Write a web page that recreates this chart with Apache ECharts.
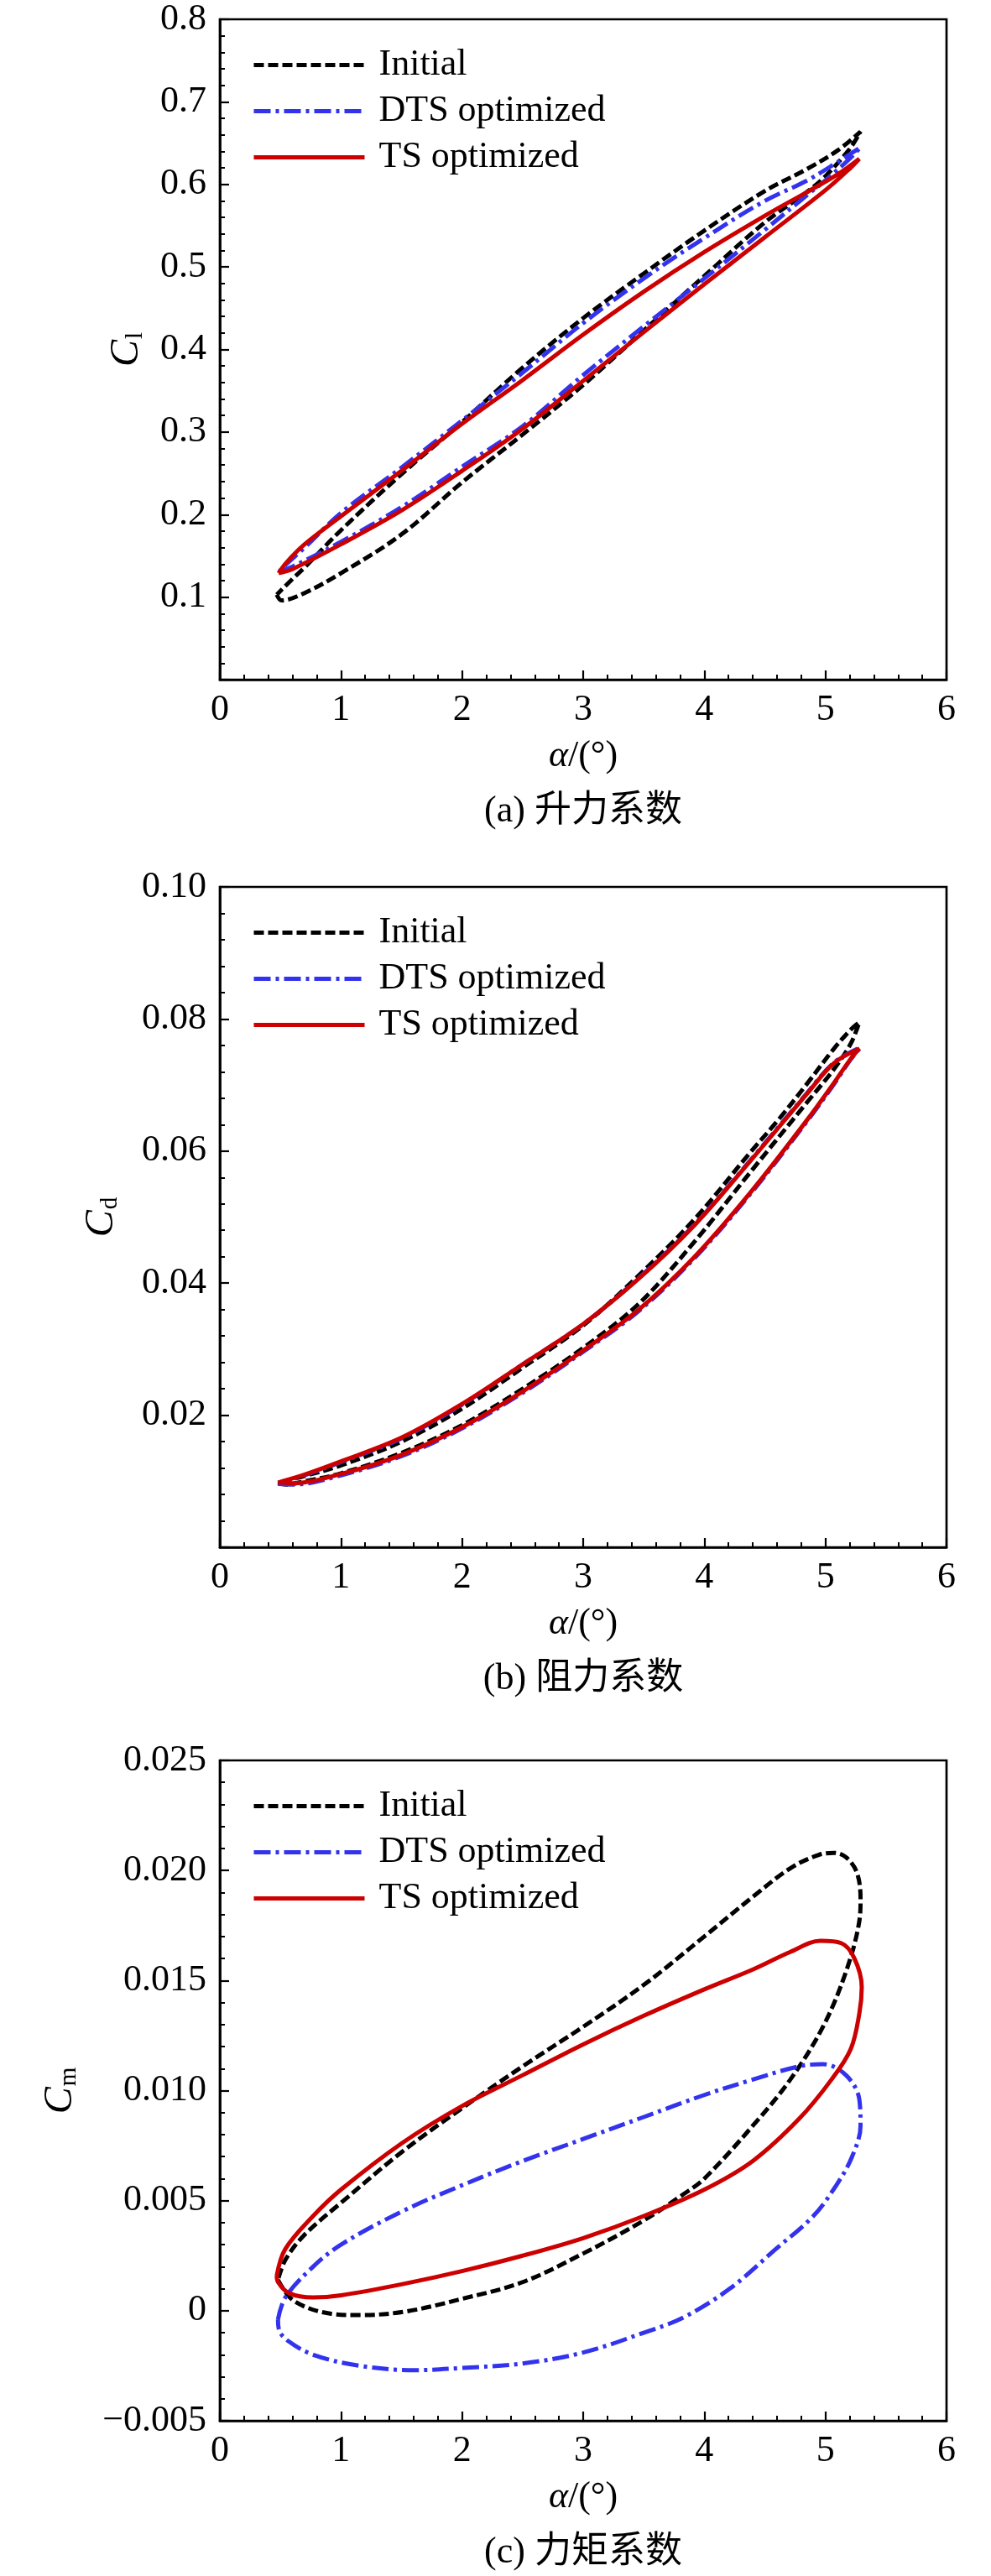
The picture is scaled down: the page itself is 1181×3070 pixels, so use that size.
<!DOCTYPE html>
<html>
<head>
<meta charset="utf-8">
<script src="https://cdn.jsdelivr.net/npm/echarts@6/dist/echarts.min.js"></script>
<style>
  html, body { margin: 0; padding: 0; background: #fff; }
  #chart { width: 1181px; height: 3070px; }
</style>
</head>
<body>
<div id="chart"></div>
<script>
// ---------- data: [alpha, coefficient] around each loop ----------
var seriesNames = ['Initial', 'DTS optimized', 'TS optimized'];

// (a) lift coefficient
var clInitial = [[0.47,0.103],[0.51,0.096],[0.7,0.105],[1.0,0.129],[1.5,0.176],[2.0,0.239],[2.5,0.297],[3.0,0.357],[3.5,0.423],[4.0,0.489],[4.5,0.554],[4.84,0.590],[5.0,0.610],[5.2,0.643],[5.29,0.664],[5.1,0.641],[4.84,0.618],[4.5,0.592],[4.0,0.544],[3.5,0.492],[3.0,0.438],[2.5,0.378],[2.0,0.312],[1.5,0.249],[1.0,0.181],[0.7,0.136],[0.6,0.122],[0.47,0.103]];
var clDts = [[0.49,0.131],[0.6,0.137],[1.0,0.167],[1.5,0.209],[2.0,0.258],[2.5,0.307],[3.0,0.369],[3.5,0.428],[4.0,0.486],[4.5,0.545],[4.84,0.586],[5.0,0.605],[5.2,0.631],[5.29,0.645],[5.1,0.627],[4.84,0.604],[4.5,0.580],[4.0,0.535],[3.5,0.486],[3.0,0.432],[2.5,0.372],[2.0,0.314],[1.5,0.257],[1.0,0.202],[0.7,0.160],[0.55,0.140],[0.49,0.131]];
var clTs = [[0.485,0.129],[0.6,0.134],[1.0,0.164],[1.5,0.205],[2.0,0.253],[2.5,0.304],[3.0,0.362],[3.5,0.421],[4.0,0.479],[4.5,0.536],[5.0,0.593],[5.2,0.619],[5.28,0.631],[5.1,0.612],[4.84,0.590],[4.5,0.562],[4.0,0.518],[3.5,0.470],[3.0,0.418],[2.5,0.363],[2.0,0.310],[1.5,0.253],[1.0,0.198],[0.7,0.164],[0.55,0.142],[0.485,0.129]];

// (b) drag coefficient
var cdInitial = [[0.48,0.0098],[0.55,0.0095],[0.7,0.0100],[1.0,0.0112],[1.5,0.0143],[2.0,0.0185],[2.5,0.0240],[3.0,0.0302],[3.46,0.0369],[3.92,0.0463],[4.38,0.0568],[4.84,0.0672],[5.07,0.0724],[5.21,0.0763],[5.28,0.0795],[5.21,0.0784],[5.07,0.0755],[4.84,0.0700],[4.61,0.0647],[4.38,0.0598],[3.92,0.0497],[3.46,0.0412],[3.0,0.0336],[2.5,0.0272],[2.0,0.0210],[1.5,0.0160],[1.0,0.0124],[0.7,0.0108],[0.48,0.0098]];
var cdDts = [[0.48,0.0096],[0.6,0.0095],[1.0,0.0109],[1.5,0.0138],[2.0,0.0180],[2.5,0.0234],[3.0,0.0296],[3.46,0.0358],[3.92,0.0438],[4.38,0.0535],[4.84,0.0643],[5.07,0.0701],[5.21,0.0739],[5.29,0.0757],[5.07,0.0734],[4.84,0.0686],[4.38,0.0586],[3.92,0.0489],[3.46,0.0408],[3.0,0.0338],[2.5,0.0277],[2.0,0.0216],[1.5,0.0165],[1.0,0.0129],[0.7,0.0109],[0.48,0.0096]];
var cdTs = [[0.48,0.0098],[0.6,0.0097],[1.0,0.0111],[1.5,0.0140],[2.0,0.0182],[2.5,0.0236],[3.0,0.0298],[3.46,0.0360],[3.92,0.0440],[4.38,0.0537],[4.84,0.0645],[5.07,0.0703],[5.21,0.0740],[5.28,0.0755],[5.07,0.0733],[4.84,0.0685],[4.38,0.0585],[3.92,0.0488],[3.46,0.0407],[3.0,0.0338],[2.5,0.0277],[2.0,0.0217],[1.5,0.0166],[1.0,0.0130],[0.7,0.0110],[0.48,0.0098]];

// (c) moment coefficient
var cmInitial = [[0.48,0.0014],[0.61,0.00045],[0.92,-0.00014],[1.15,-0.0002],[1.53,-0.00004],[2.0,0.00054],[2.5,0.0013],[3.0,0.0026],[3.5,0.0041],[3.83,0.0053],[4.0,0.0060],[4.4,0.0084],[4.71,0.0105],[4.98,0.0129],[5.17,0.0154],[5.28,0.0177],[5.29,0.0187],[5.26,0.0199],[5.17,0.0206],[5.07,0.0208],[4.94,0.0207],[4.71,0.0201],[4.4,0.0188],[4.0,0.0170],[3.5,0.0148],[3.0,0.0129],[2.5,0.0111],[2.0,0.0092],[1.5,0.0072],[1.0,0.0049],[0.69,0.0034],[0.54,0.0023],[0.48,0.0014]];
var cmDts = [[0.48,-0.0004],[0.54,0.0006],[0.77,0.0020],[1.0,0.0030],[1.5,0.0045],[2.0,0.0057],[2.5,0.0068],[3.0,0.0078],[3.5,0.0088],[4.0,0.0098],[4.4,0.0105],[4.78,0.0111],[4.98,0.0112],[5.17,0.0107],[5.28,0.0096],[5.29,0.0084],[5.22,0.0070],[5.09,0.0057],[4.9,0.0043],[4.59,0.0028],[4.21,0.0010],[3.83,-0.0003],[3.5,-0.0010],[3.0,-0.0019],[2.5,-0.0024],[2.0,-0.0026],[1.61,-0.0027],[1.15,-0.0025],[0.77,-0.0020],[0.57,-0.0014],[0.49,-0.0009],[0.48,-0.0004]];
var cmTs = [[0.47,0.0016],[0.54,0.0028],[0.77,0.0043],[1.0,0.0055],[1.5,0.0076],[2.0,0.0093],[2.5,0.0107],[3.0,0.0121],[3.5,0.0134],[4.0,0.0146],[4.4,0.0155],[4.71,0.0163],[4.96,0.0168],[5.13,0.0167],[5.24,0.0160],[5.30,0.0147],[5.28,0.0135],[5.21,0.0119],[5.05,0.0105],[4.78,0.0087],[4.4,0.0068],[4.0,0.0055],[3.5,0.0043],[3.0,0.0033],[2.5,0.0025],[2.0,0.0018],[1.5,0.0012],[1.0,0.0007],[0.77,0.0006],[0.57,0.0008],[0.48,0.0013],[0.47,0.0016]];

// axis ticks: min, max, interval
var xTicks = [0, 6, 1];
var clTicks = [0, 0.8, 0.1];
var cdTicks = [0, 0.10, 0.02];
var cmTicks = [-0.005, 0.025, 0.005];

var captions = ['(a) 升力系数', '(b) 阻力系数', '(c) 力矩系数'];
var yNames = ['{i|C}{s|l}', '{i|C}{s|d}', '{i|C}{s|m}'];

// ---------- layout ----------
var FONT = '"Liberation Serif", "Times New Roman", "Noto Sans CJK SC", serif';
var BLUE = '#3333ee';
var RED = '#cc0000';
var colors = ['#000', BLUE, RED];
var gridTops = [23, 1057, 2098];
var gridH = 787;
var gridLeft = 262;
var gridW = 866;
var yNameGaps = [86, 116, 165];

var chart = echarts.init(document.getElementById('chart'), null, { renderer: 'canvas' });

function fmtA(v) { return Math.abs(v) < 1e-9 ? '' : v.toFixed(1); }
function fmtB(v) { return Math.abs(v) < 1e-9 ? '' : v.toFixed(2); }
function fmtC(v) {
  if (Math.abs(v) < 1e-9) return '0';
  if (v < 0) return '\u2212' + (-v).toFixed(3);
  return v.toFixed(3);
}
var yTicks = [clTicks, cdTicks, cmTicks];
var yFmts = [fmtA, fmtB, fmtC];
var loops = [[clInitial, clDts, clTs], [cdInitial, cdDts, cdTs], [cmInitial, cmDts, cmTs]];

var lineStyles = [
  { color: '#000', width: 5, type: [12, 5] },
  { color: BLUE, width: 5, type: [20, 6, 4, 6] },
  { color: RED, width: 5, type: 'solid' }
];

var grids = [], xAxes = [], yAxes = [], series = [], legends = [], graphics = [];

for (var g = 0; g < 3; g++) {
  grids.push({
    left: gridLeft, top: gridTops[g], width: gridW, height: gridH,
    show: true, borderColor: '#000', borderWidth: 2.7, containLabel: false
  });
  xAxes.push({
    gridIndex: g, type: 'value',
    min: xTicks[0], max: xTicks[1], interval: xTicks[2],
    name: '{i|α}/(°)', nameLocation: 'middle', nameGap: 69,
    nameTextStyle: {
      fontFamily: FONT, fontSize: 44, color: '#000',
      rich: { i: { fontFamily: FONT, fontSize: 44, fontStyle: 'italic', color: '#000' } }
    },
    axisLine: { show: true, onZero: false, lineStyle: { color: '#000', width: 2.7 } },
    axisTick: { show: true, inside: true, length: 11, lineStyle: { color: '#000', width: 2.2 } },
    minorTick: { show: true, splitNumber: 5, length: 6, lineStyle: { color: '#000', width: 2 } },
    splitLine: { show: false },
    axisLabel: { margin: 14, fontFamily: FONT, fontSize: 44, color: '#000' }
  });
  yAxes.push({
    gridIndex: g, type: 'value',
    min: yTicks[g][0], max: yTicks[g][1], interval: yTicks[g][2],
    name: yNames[g], nameLocation: 'middle', nameGap: yNameGaps[g], nameRotate: 90,
    nameTextStyle: {
      fontFamily: FONT, color: '#000',
      rich: {
        i: { fontFamily: FONT, fontSize: 48, fontStyle: 'italic', color: '#000', lineHeight: 50 },
        s: { fontFamily: FONT, fontSize: 29, color: '#000', lineHeight: 29, verticalAlign: 'bottom', padding: [22, 0, 0, 1] }
      }
    },
    axisLine: { show: true, onZero: false, lineStyle: { color: '#000', width: 2.7 } },
    axisTick: { show: true, inside: true, length: 11, lineStyle: { color: '#000', width: 2.2 } },
    minorTick: { show: true, splitNumber: 5, length: 6, lineStyle: { color: '#000', width: 2 } },
    splitLine: { show: false },
    axisLabel: { margin: 16, fontFamily: FONT, fontSize: 44, color: '#000', formatter: yFmts[g] }
  });
  for (var s = 0; s < 3; s++) {
    series.push({
      name: seriesNames[s], type: 'line',
      xAxisIndex: g, yAxisIndex: g,
      data: loops[g][s],
      smooth: 0.35, symbol: 'none', showSymbol: false,
      itemStyle: { color: colors[s] },
      lineStyle: lineStyles[s],
      z: 2 + s
    });
  }
  legends.push({
    orient: 'vertical', left: 295, top: gridTops[g] + 22,
    itemWidth: 132, itemHeight: 14, itemGap: 0,
    itemStyle: { opacity: 0 },
    lineStyle: { width: 5 },
    textStyle: { fontFamily: FONT, fontSize: 44, color: '#000', lineHeight: 55, padding: [0, 0, 0, 12] },
    data: seriesNames.slice()
  });
  graphics.push({
    type: 'text', x: 695, y: gridTops[g] + gridH + 157,
    style: {
      text: captions[g], font: '44px ' + FONT, fill: '#000',
      align: 'center', verticalAlign: 'middle'
    }
  });
}

chart.setOption({
  animation: false,
  backgroundColor: '#fff',
  grid: grids,
  xAxis: xAxes,
  yAxis: yAxes,
  legend: legends,
  series: series,
  graphic: graphics
});
</script>
</body>
</html>
